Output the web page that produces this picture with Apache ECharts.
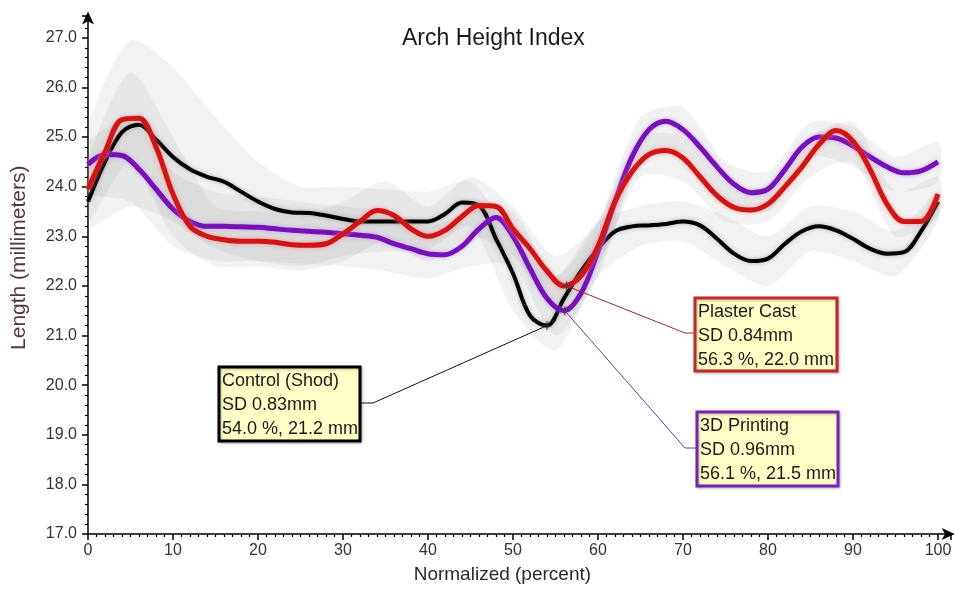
<!DOCTYPE html>
<html><head><meta charset="utf-8">
<script src="https://cdn.jsdelivr.net/npm/echarts@6/dist/echarts.min.js"></script>
<style>html,body{margin:0;padding:0;background:#fff}#c{width:955px;height:589px}</style>
</head><body><div id="c"></div>
<script>
// ---------------- data ----------------
const xPos = [0,2,4,6,8,10,12,14,16,18,20,22,24,26,28,30,32,34,36,38,40,42,44,46,48,50,
              52,54,56,58,60,62,64,66,68,70,72,74,76,78,80,82,84,86,88,90,92,94,96,98,100];
const control  = [23.7,24.5,25.1,25.25,24.95,24.6,24.35,24.2,24.1,23.9,23.7,23.55,23.48,23.47,23.42,23.35,23.3,23.3,23.3,23.3,23.3,23.45,23.68,23.62,22.95,22.25,
                  21.4,21.2,21.75,22.3,22.75,23.1,23.2,23.22,23.25,23.3,23.22,22.95,22.65,22.5,22.55,22.85,23.1,23.2,23.12,22.95,22.75,22.65,22.68,23.1,23.7];
const plaster  = [23.95,24.7,25.35,25.38,24.8,23.85,23.2,23.0,22.93,22.9,22.9,22.88,22.83,22.82,22.85,23.05,23.3,23.52,23.42,23.15,23.0,23.12,23.4,23.62,23.6,23.15,
                  22.75,22.3,22.0,22.2,22.8,23.7,24.3,24.65,24.73,24.58,24.2,23.82,23.58,23.53,23.65,24.0,24.4,24.85,25.13,24.92,24.35,23.65,23.3,23.3,23.85];
const printing = [24.45,24.65,24.63,24.35,23.95,23.55,23.3,23.2,23.2,23.19,23.18,23.15,23.12,23.1,23.08,23.05,23.02,22.98,22.85,22.75,22.65,22.63,22.8,23.15,23.38,23.0,
                  22.35,21.75,21.5,21.85,22.7,23.7,24.6,25.15,25.32,25.15,24.8,24.4,24.05,23.88,23.95,24.35,24.8,25.0,24.98,24.82,24.6,24.4,24.28,24.32,24.5];

// SD bands (upper / lower), sampled every 5 %
const bandX = [0,5,10,15,20,25,30,35,40,45,50,55,60,65,70,75,80,85,90,95,100];
const controlUpper  = [25.2,26.95,26.4,25.4,24.5,24.0,24.0,23.95,23.9,24.1,23.0,22.2,23.3,23.6,23.7,23.4,23.0,23.6,23.5,23.1,23.9];
const controlLower  = [23.2,23.6,23.3,22.75,22.5,22.4,22.6,22.7,22.75,23.2,21.5,20.7,22.2,22.8,22.9,22.4,22.0,22.7,22.5,22.2,23.3];
const plasterUpper  = [24.5,26.3,25.0,23.6,23.5,23.4,23.7,24.1,23.6,24.2,23.6,22.6,23.3,25.0,25.0,24.1,24.0,25.0,25.3,23.9,24.2];
const plasterLower  = [23.3,24.5,23.0,22.4,22.4,22.3,22.5,22.9,22.5,23.0,22.6,21.6,22.4,24.2,24.1,23.3,23.3,24.2,24.5,23.0,23.4];
const printingUpper = [24.9,25.3,24.3,23.9,23.8,23.7,23.6,23.5,23.2,23.5,23.5,22.2,23.3,25.4,25.6,24.5,24.3,25.3,25.2,24.6,24.9];
const printingLower = [23.9,23.7,22.8,22.5,22.5,22.45,22.4,22.3,22.15,22.4,22.4,21.0,22.2,24.5,24.7,23.7,23.5,24.6,24.4,23.9,24.1];

// annotations
const annNames = ['Control (Shod)','Plaster Cast','3D Printing'];
const annSD    = ['SD 0.83mm','SD 0.84mm','SD 0.96mm'];
const annX     = [54.0, 56.3, 56.1];
const annY     = [21.2, 22.0, 21.5];

// axis tick labels
const xTickLabels = [0,10,20,30,40,50,60,70,80,90,100];
const yTickLabels = ['17.0','18.0','19.0','20.0','21.0','22.0','23.0','24.0','25.0','26.0','27.0'];

// ---------------- chart ----------------
const FONT = '"Liberation Sans", Arial, sans-serif';
const pair = (xs, ys) => xs.map((x, i) => [x, ys[i]]);

function band(name, upper, lower) {
  return {
    type:'custom', name:name, silent:true, z:1, clip:true,
    data: bandX.map((x, i) => [x, upper[i], lower[i]]),
    encode:{x:0, y:[1,2]},
    renderItem:(params, api) => {
      if (params.dataIndex !== 0) return null;
      const pts = [];
      for (let i = 0; i < bandX.length; i++) pts.push(api.coord([bandX[i], upper[i]]));
      for (let i = bandX.length - 1; i >= 0; i--) pts.push(api.coord([bandX[i], lower[i]]));
      return { type:'polygon', shape:{points:pts, smooth:0.25},
               style:{fill:'rgba(140,140,140,0.115)', stroke:null} };
    }
  };
}
function mainLine(name, ys, color, glow, w) {
  return { type:'line', name:name, data:pair(xPos, ys), smooth:0.35, symbol:'none',
    lineStyle:{color:color, width:w, shadowColor:glow, shadowBlur:glow?4:0}, z:3 };
}

const chart = echarts.init(document.getElementById('c'), null, {renderer:'canvas'});
const option = {
  animation:false,
  backgroundColor:'#fff',
  title:{ text:'Arch Height Index', left:397, top:22,
          textStyle:{fontFamily:FONT, fontSize:23, fontWeight:'normal', color:'#1a1a1a'} },
  grid:{ left:88, right:4.25, top:15.5, bottom:52 },
  xAxis:{
    type:'value', min:0, max:101.5, interval:10,
    name:'Normalized (percent)', nameLocation:'middle', nameGap:31,
    nameTextStyle:{fontFamily:FONT, fontSize:19, color:'#2a2a2a', padding:[0,34,0,0]},
    axisLine:{lineStyle:{color:'#000', width:1.5}, symbol:['none','arrow'], symbolSize:[9,13], symbolOffset:[0,4]},
    axisTick:{show:true, inside:false, length:6, lineStyle:{color:'#000', width:1.5}},
    minorTick:{show:true, splitNumber:10, length:3, lineStyle:{color:'#000', width:1.2}},
    axisLabel:{fontFamily:FONT, fontSize:16, color:'#333', margin:9,
      formatter:v => xTickLabels.indexOf(v) >= 0 ? String(v) : ''},
    splitLine:{show:false}
  },
  yAxis:{
    type:'value', min:17, max:27.45, interval:1,
    name:'Length (millimeters)', nameLocation:'middle', nameGap:58,
    nameTextStyle:{fontFamily:FONT, fontSize:21, color:'#553344', padding:[0,0,0,34]},
    axisLine:{lineStyle:{color:'#000', width:1.5}, symbol:['none','arrow'], symbolSize:[9,13], symbolOffset:[0,4]},
    axisTick:{show:true, inside:false, length:6, lineStyle:{color:'#000', width:1.5}},
    minorTick:{show:true, splitNumber:5, length:3, lineStyle:{color:'#000', width:1.2}},
    axisLabel:{fontFamily:FONT, fontSize:16, color:'#333', margin:11,
      formatter:v => { const s = v.toFixed(1); return yTickLabels.indexOf(s) >= 0 && Math.abs(v - Math.round(v)) < 1e-6 ? s : ''; }},
    splitLine:{show:false}
  },
  series:[
    band('control', controlUpper, controlLower),
    band('plaster', plasterUpper, plasterLower),
    band('printing', printingUpper, printingLower),
    mainLine('Control (Shod)', control, '#000000', 'rgba(120,120,120,0.5)', 4),
    mainLine('3D Printing', printing, '#7412b4', 'rgba(200,140,255,0.8)', 5),
    mainLine('Plaster Cast', plaster, '#cf1616', 'rgba(255,130,130,0.8)', 5),
    { type:'scatter', data:pair(annX, annY), symbol:'path://M0,5L10,5M5,0L5,10M5,5Z', symbolSize:9,
      itemStyle:{color:'transparent', borderWidth:1.3,
        borderColor:p => ['#333','#8a2020','#5a2a80'][p.dataIndex]}, z:6, silent:true }
  ]
};
chart.setOption(option);

// annotation boxes (layout only) with leader lines to the data points
const boxLayout = [
  {x:219, y:367, w:141, h:74, elbow:[373,403], anchor:[360,403], border:'#000000', lead:'#111111'},
  {x:695, y:298, w:142, h:73, elbow:[685,333], anchor:[695,333], border:'#c0282a', lead:'#9a2a2a'},
  {x:697, y:412, w:141, h:74, elbow:[685,448], anchor:[697,448], border:'#7a22b4', lead:'#7a3aa0'}
];
const graphics = [];
annX.forEach((x, i) => {
  const p = chart.convertToPixel({xAxisIndex:0, yAxisIndex:0}, [x, annY[i]]);
  const b = boxLayout[i];
  graphics.push({ type:'polyline', z:50, shape:{points:[p, b.elbow, b.anchor]},
    style:{stroke:b.lead, lineWidth:1, fill:null}, silent:true });
  graphics.push({ type:'rect', z:51, shape:{x:b.x, y:b.y, width:b.w, height:b.h},
    style:{fill:'#ffffc6', stroke:b.border, lineWidth:3, shadowColor:'rgba(0,0,0,0.25)', shadowBlur:3, shadowOffsetX:1, shadowOffsetY:1}, silent:true });
  graphics.push({ type:'text', z:52, left:b.x + 3, top:b.y + 2,
    style:{ text:[annNames[i], annSD[i], annX[i].toFixed(1) + ' %, ' + annY[i].toFixed(1) + ' mm'].join('\n'),
      font:'18px ' + FONT, fill:'#1a1a1a', lineHeight:24 }, silent:true });
});
chart.setOption({graphic:graphics});
</script></body></html>
